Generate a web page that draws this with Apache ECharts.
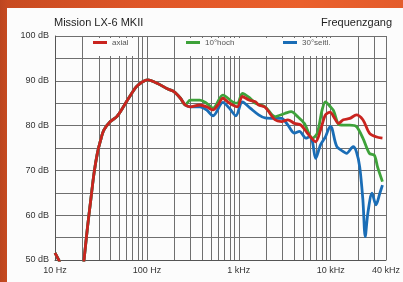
<!DOCTYPE html>
<html>
<head>
<meta charset="utf-8">
<script src="https://cdn.jsdelivr.net/npm/echarts@6/dist/echarts.min.js"></script>
<style>
  html, body { margin: 0; padding: 0; }
  body {
    width: 403px; height: 282px; overflow: hidden; position: relative;
    background: linear-gradient(to right, #bc451f 0px, #c84b21 8px, #df5628 140px, #ea602c 300px, #e45c2c 403px);
  }
  #panel { position: absolute; left: 7px; top: 8px; right: 0; bottom: 0; background: #fcfcfc; }
  #chart { position: absolute; left: 0; top: 0; width: 403px; height: 282px; }
</style>
</head>
<body>
<div id="panel"></div>
<div id="chart"></div>
<script>
// gemeinsamer Verlauf aller drei Kurven bis ca. 280 Hz (null = unter 50 dB)
const lowFreq = [10, 11.3, 15, 20.5, 22.6, 24.5, 26.6, 28.9, 31.4, 34, 40, 47, 55.5, 65, 77, 90, 102, 131, 167, 197, 232, 262]
const lowDb = [51.6, 49.5, null, 49.2, 57.4, 63.4, 69.4, 73.8, 76.8, 79.0, 80.9, 82.0, 84.2, 86.5, 88.7, 89.8, 90.2, 89.4, 88.2, 87.6, 86.1, 84.6]

// axial
const axialFreq = [296, 378, 446, 525, 593, 671, 758, 857, 968, 1094, 1288, 1517, 1645, 1935, 2477, 2917, 3428, 4036, 4750, 5592, 6866, 7760, 8770, 9930, 10770, 12170, 13740, 16180, 19040, 22420, 26400, 31100, 36600]
const axialDb = [84.2, 84.6, 84.2, 83.5, 84.6, 86.1, 85.3, 84.6, 84.2, 86.5, 85.7, 85.3, 84.6, 84.1, 81.3, 80.9, 81.3, 80.5, 80.1, 78.3, 76.4, 79.0, 82.4, 83.0, 82.0, 80.5, 81.3, 81.6, 82.4, 81.3, 78.3, 77.5, 77.2]

// 10° hoch
const hochFreq = [296, 378, 446, 525, 671, 857, 968, 1094, 1331, 1517, 1935, 2477, 3162, 3724, 4377, 5160, 6324, 7146, 8070, 8770, 9930, 10770, 12170, 13740, 16180, 19040, 22420, 26400, 29880, 32360, 36600]
const hochDb = [85.7, 85.7, 85.0, 83.9, 86.8, 85.3, 85.0, 87.2, 86.1, 85.0, 84.2, 82.0, 82.7, 83.1, 82.0, 80.5, 77.2, 78.3, 83.5, 85.3, 84.2, 83.3, 80.3, 80.1, 80.1, 79.8, 77.2, 73.8, 73.4, 70.8, 67.5]

// 30° seitlich
const seitlFreq = [296, 378, 446, 525, 671, 789, 929, 1094, 1331, 1645, 1935, 2477, 2917, 3428, 4036, 4571, 5380, 5880, 6324, 6866, 7760, 8770, 9930, 10330, 11670, 13740, 14900, 17580, 19040, 20700, 22420, 23770, 25360, 28200, 31100, 34280, 36600]
const seitlDb = [84.2, 84.2, 83.5, 82.2, 85.2, 83.9, 82.2, 85.3, 83.9, 82.4, 81.7, 81.6, 81.6, 80.1, 78.3, 78.7, 77.2, 77.5, 76.4, 72.7, 75.7, 77.5, 79.8, 79.4, 75.3, 74.2, 73.8, 75.3, 74.2, 70.8, 63.4, 55.2, 60.4, 64.9, 62.3, 64.9, 66.7]

// Gitterlinien zwischen den Dekaden
const gridFreq = [20, 30, 40, 50, 60, 70, 80, 90, 200, 300, 400, 500, 600, 700, 800, 900, 2000, 3000, 4000, 5000, 6000, 7000, 8000, 9000, 20000, 30000]
const xLabels = { 10: '10 Hz', 100: '100 Hz', 1000: '1 kHz', 10000: '10 kHz', 40000: '40 kHz' }

const font = "'Liberation Sans Narrow', 'Liberation Sans', sans-serif"
const gridColor = '#6f6f6f'

function curve (name, color, z, freq, db) {
  let f = lowFreq.concat(freq)
  let d = lowDb.concat(db)
  return {
    name: name,
    type: 'line',
    z: z,
    showSymbol: false,
    smooth: 0.3,
    animation: false,
    lineStyle: { color: color, width: 2.8 },
    itemStyle: { color: color },
    data: f.map(function (v, i) { return [v, d[i] === null ? '-' : d[i]] })
  }
}

// Legendenkasten deckt die Zwischenlinien in der obersten Zeile ab
function legendBox (name, left, padRight) {
  return {
    data: [name],
    left: left,
    top: 38,
    z: 20,
    padding: [0, padRight, 9, 7],
    backgroundColor: '#fcfcfc',
    icon: 'rect',
    itemWidth: 14,
    itemHeight: 3,
    itemGap: 4,
    textStyle: { fontSize: 8, color: '#555', fontFamily: font, lineHeight: 9 }
  }
}

let myChart = echarts.init(document.getElementById('chart'))
let option = {
  backgroundColor: 'transparent',
  animation: false,
  title: [
    { text: 'Mission LX-6 MKII', left: 54, top: 17, padding: 0, textStyle: { fontSize: 11, fontWeight: 'normal', color: '#1e1e1e', fontFamily: font } },
    { text: 'Frequenzgang', right: 11, top: 17, padding: 0, textStyle: { fontSize: 11, fontWeight: 'normal', color: '#1e1e1e', fontFamily: font } }
  ],
  legend: [
    legendBox('axial', 86, 9),
    legendBox('10°hoch', 179, 36),
    legendBox('30°seitl.', 276, 3)
  ],
  grid: { left: 55, right: 11, top: 36, bottom: 22, containLabel: false },
  xAxis: {
    type: 'log',
    logBase: 10,
    min: 10,
    max: 40000,
    axisLine: { lineStyle: { color: '#555', width: 1 } },
    axisTick: { show: false },
    axisLabel: {
      fontSize: 9, color: '#333', fontFamily: font, margin: 6,
      formatter: function (v) { return xLabels[Math.round(v)] || '' }
    },
    splitLine: { show: true, lineStyle: { color: gridColor, width: 1 } }
  },
  yAxis: {
    type: 'value',
    min: 50,
    max: 100,
    interval: 5,
    axisLine: { show: true, lineStyle: { color: '#555', width: 1 } },
    axisTick: { show: false },
    axisLabel: {
      fontSize: 9, color: '#333', fontFamily: font, margin: 6,
      formatter: function (v) { return v % 10 === 0 ? v + ' dB' : '' }
    },
    splitLine: { show: true, lineStyle: { color: gridColor, width: 1 } }
  },
  series: [
    {
      name: 'grid',
      type: 'line',
      z: 1,
      data: [],
      markLine: {
        z: 1,
        silent: true,
        animation: false,
        symbol: ['none', 'none'],
        label: { show: false },
        lineStyle: { color: gridColor, width: 1, type: 'solid' },
        emphasis: { disabled: true },
        data: gridFreq.map(function (f) { return { xAxis: f } })
      }
    },
    curve('axial', '#c9241f', 5, axialFreq, axialDb),
    curve('10°hoch', '#3ea23a', 4, hochFreq, hochDb),
    curve('30°seitl.', '#1a6db6', 3, seitlFreq, seitlDb)
  ]
}
myChart.setOption(option)
</script>
</body>
</html>
